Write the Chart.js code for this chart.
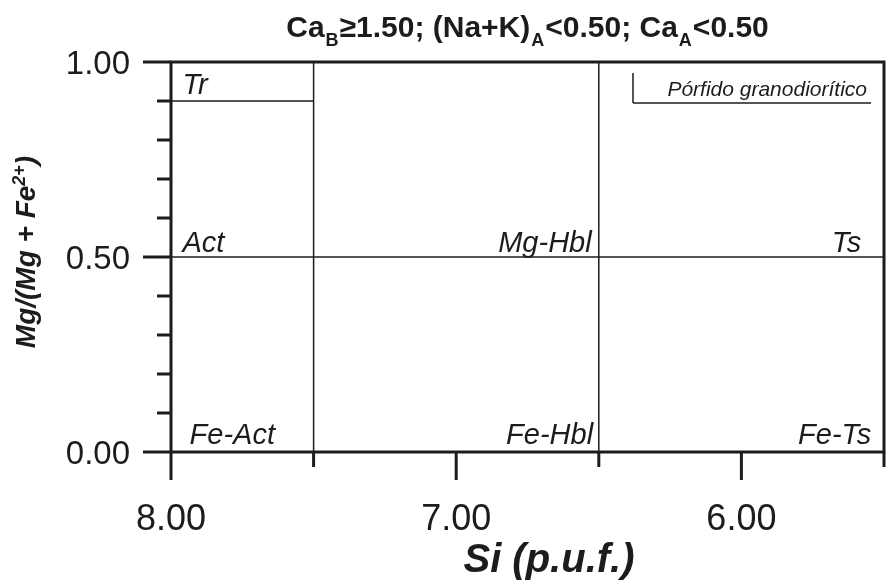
<!DOCTYPE html>
<html>
<head>
<meta charset="utf-8">
<script src="https://cdn.jsdelivr.net/npm/chart.js@4.4.1/dist/chart.umd.min.js"></script>
<style>
  html, body { margin: 0; padding: 0; background: #fff; }
  #wrap { width: 893px; height: 583px; }
</style>
</head>
<body>
<div id="wrap"><canvas id="chart" width="893" height="583"></canvas></div>
<script>
// Si axis (reversed) and Mg# axis
const siTicks = [8.0, 7.5, 7.0, 6.5, 6.0, 5.5];
const siLabels = ["8.00", "", "7.00", "", "6.00", ""];
const mgTicks = [0, 0.1, 0.2, 0.3, 0.4, 0.5, 0.6, 0.7, 0.8, 0.9, 1.0];
const mgLabels = ["0.00", "", "", "", "", "0.50", "", "", "", "", "1.00"];

// field boundaries
const siBounds = [7.5, 6.5];
const mgBound = 0.5;
const trMg = 0.9;
const trSi = [8.0, 7.5];

// field names and where they sit (Si, Mg#)
const fieldNames = ["Tr", "Act", "Mg-Hbl", "Ts", "Fe-Act", "Fe-Hbl", "Fe-Ts"];
const fieldSi = [7.96, 7.96, 6.525, 5.58, 7.935, 6.52, 5.545];
const fieldMg = [0.918, 0.513, 0.513, 0.513, 0.02, 0.02, 0.02];
const fieldAlign = ["left", "left", "right", "right", "left", "right", "right"];

// sample series (no points fall inside this diagram)
const sampleName = "Pórfido granodiorítico";
const sampleSi = [];
const sampleMg = [];

const ink = "#1c1c1c";
const fam = '"Liberation Sans", Arial, sans-serif';

function lineSet(pts) {
  return { data: pts, showLine: true, pointRadius: 0, borderColor: ink, borderWidth: 1.5, fill: false };
}

const datasets = [];
siBounds.forEach(s => datasets.push(lineSet([{ x: s, y: 0 }, { x: s, y: 1 }])));
datasets.push(lineSet([{ x: 5.5, y: mgBound }, { x: 8.0, y: mgBound }]));
datasets.push(lineSet([{ x: trSi[0], y: trMg }, { x: trSi[1], y: trMg }]));
datasets.push({
  label: sampleName,
  data: sampleSi.map((s, i) => ({ x: s, y: sampleMg[i] })),
  pointStyle: "circle", pointRadius: 5, backgroundColor: ink, borderColor: ink
});

function line(ctx, x1, y1, x2, y2) {
  ctx.beginPath(); ctx.moveTo(x1, y1); ctx.lineTo(x2, y2); ctx.stroke();
}

const decor = {
  id: "decor",
  afterDraw(chart) {
    const { ctx, chartArea: a, scales: { x, y } } = chart;
    ctx.save();
    ctx.strokeStyle = ink;
    ctx.fillStyle = ink;
    ctx.lineWidth = 3;
    ctx.lineCap = "butt";
    ctx.strokeRect(a.left, a.top, a.right - a.left, a.bottom - a.top);

    // tick marks, long on labelled values
    mgTicks.forEach((v, i) => {
      const py = y.getPixelForValue(v);
      const len = mgLabels[i] ? 28 : 14;
      line(ctx, a.left - len, py, a.left, py);
    });
    siTicks.forEach((v, i) => {
      const px = x.getPixelForValue(v);
      const len = siLabels[i] ? 28 : 15;
      line(ctx, px, a.bottom, px, a.bottom + len);
    });

    // field names
    ctx.font = "italic 29px " + fam;
    ctx.textBaseline = "alphabetic";
    fieldNames.forEach((n, i) => {
      ctx.textAlign = fieldAlign[i];
      ctx.fillText(n, x.getPixelForValue(fieldSi[i]), y.getPixelForValue(fieldMg[i]));
    });

    // legend box
    ctx.lineWidth = 1.5;
    const lx = a.left + 462, ly = a.top + 41;
    line(ctx, lx, a.top + 11, lx, ly);
    line(ctx, lx, ly, a.right - 13, ly);
    ctx.font = "italic 21px " + fam;
    ctx.textAlign = "right";
    ctx.fillText(chart.data.datasets[4].label, a.right - 17, a.top + 34);

    // title with subscripts
    const parts = [["Ca", 0], ["B", 1], ["≥1.50; (Na+K)", 0], ["A", 1], ["<0.50; Ca", 0], ["A", 1], ["<0.50", 0]];
    const big = "bold 30px " + fam, small = "bold 18px " + fam;
    let w = 0;
    parts.forEach(p => { ctx.font = p[1] ? small : big; w += ctx.measureText(p[0]).width + (p[1] ? 2 : 0); });
    let tx = (a.left + a.right) / 2 - w / 2;
    ctx.textAlign = "left";
    parts.forEach(p => {
      ctx.font = p[1] ? small : big;
      ctx.fillText(p[0], tx + (p[1] ? 1 : 0), p[1] ? 46 : 37);
      tx += ctx.measureText(p[0]).width + (p[1] ? 2 : 0);
    });

    // x axis title
    ctx.font = "bold italic 40px " + fam;
    ctx.textAlign = "center";
    ctx.fillText("Si (p.u.f.)", 549, 572);

    // y axis title, rotated, with superscript
    ctx.translate(35, 252);
    ctx.rotate(-Math.PI / 2);
    const yparts = [["Mg/(Mg + Fe", 0], ["2+", 1], [")", 0]];
    const yb = "bold italic 28px " + fam, ys = "bold italic 18px " + fam;
    w = 0;
    yparts.forEach(p => { ctx.font = p[1] ? ys : yb; w += ctx.measureText(p[0]).width; });
    tx = -w / 2;
    ctx.textAlign = "left";
    yparts.forEach(p => {
      ctx.font = p[1] ? ys : yb;
      ctx.fillText(p[0], tx, p[1] ? -10 : 0);
      tx += ctx.measureText(p[0]).width;
    });
    ctx.restore();
  }
};

new Chart(document.getElementById("chart"), {
  type: "scatter",
  data: { datasets },
  options: {
    responsive: false,
    animation: false,
    layout: { padding: { top: 62, right: 9, bottom: 0, left: 0 } },
    plugins: { legend: { display: false }, title: { display: false }, tooltip: { enabled: false } },
    scales: {
      x: {
        type: "linear", reverse: true, min: 5.5, max: 8.0,
        afterBuildTicks: s => { s.ticks = siTicks.map(v => ({ value: v })); },
        afterFit: s => { s.height = 131; s.paddingLeft = 0; s.paddingRight = 0; },
        ticks: {
          autoSkip: false, maxRotation: 0, padding: 46, color: ink,
          font: { family: fam, size: 36 },
          callback: v => siLabels[siTicks.indexOf(v)] || ""
        },
        grid: { display: false, drawTicks: false },
        border: { display: false }
      },
      y: {
        type: "linear", min: 0, max: 1,
        afterBuildTicks: s => { s.ticks = mgTicks.map(v => ({ value: v })); },
        afterFit: s => { s.width = 171; s.paddingTop = 0; s.paddingBottom = 0; },
        ticks: {
          autoSkip: false, padding: 41, color: ink, labelOffset: 3,
          font: { family: fam, size: 33 },
          callback: v => mgLabels[mgTicks.findIndex(t => Math.abs(t - v) < 1e-6)] || ""
        },
        grid: { display: false, drawTicks: false },
        border: { display: false }
      }
    }
  },
  plugins: [decor]
});
</script>
</body>
</html>
